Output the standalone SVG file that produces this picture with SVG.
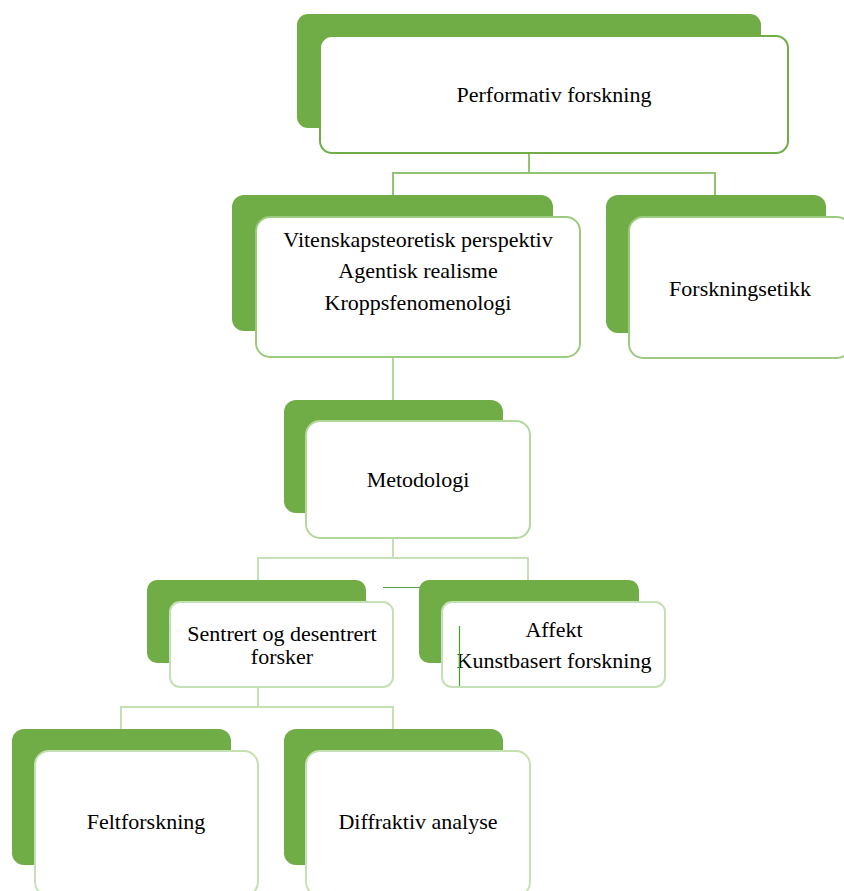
<svg xmlns="http://www.w3.org/2000/svg" width="844" height="891" viewBox="0 0 844 891">
  <style>
    .back { fill: #70ad47; }
    .front { fill: #ffffff; stroke-width: 2; }
    .l1 { stroke: #70ad47; }
    .l2 { stroke: #9ccb80; }
    .l3 { stroke: #b3d89c; }
    .l4 { stroke: #c5e0b4; }
    .label { font-family: "Liberation Serif", "Times New Roman", serif; font-size: 22px; fill: #000000; text-anchor: middle; }
    .conn { fill: none; stroke-width: 2; }
  </style>
  <rect width="844" height="891" fill="#ffffff"/>

  <!-- connectors -->
  <g id="connectors">
    <path class="conn" stroke="#92c474" d="M529,153 V173 M393,195 V173 H715 V195"/>
    <path class="conn" stroke="#b3d89c" d="M393,357 V400"/>
    <path class="conn" stroke="#c5e0b4" d="M393,538 V558 M258,580 V558 H528 V580"/>
    <path class="conn" stroke="#c5e0b4" d="M258,687 V707 M121,729 V707 H393 V729"/>
  </g>

  <!-- top node -->
  <g id="performativ">
    <rect class="back" x="297" y="14" width="464" height="114" rx="11"/>
    <rect class="front l1" x="320" y="36" width="468" height="117" rx="12"/>
    <text class="label" x="554" y="102">Performativ forskning</text>
  </g>

  <g id="vitenskap">
    <rect class="back" x="232" y="195" width="321" height="136" rx="12"/>
    <rect class="front l2" x="256" y="217" width="324" height="140" rx="14"/>
    <text class="label" x="418" y="247">Vitenskapsteoretisk perspektiv</text>
    <text class="label" x="418" y="278">Agentisk realisme</text>
    <text class="label" x="418" y="310">Kroppsfenomenologi</text>
  </g>

  <g id="forskningsetikk">
    <rect class="back" x="606" y="195" width="220" height="138" rx="12"/>
    <rect class="front l2" x="629" y="217" width="222" height="141" rx="14"/>
    <text class="label" x="740" y="296">Forskningsetikk</text>
  </g>

  <g id="metodologi">
    <rect class="back" x="284" y="400" width="219" height="113" rx="12"/>
    <rect class="front l3" x="306" y="421" width="224" height="117" rx="14"/>
    <text class="label" x="418" y="487">Metodologi</text>
  </g>

  <g id="sentrert">
    <rect class="back" x="147" y="580" width="219" height="83" rx="10"/>
    <rect class="front l4" x="170" y="602" width="223" height="85" rx="10"/>
    <text class="label" x="282" y="641">Sentrert og desentrert</text>
    <text class="label" x="282" y="664">forsker</text>
  </g>

  <g id="affekt">
    <rect class="back" x="419" y="580" width="220" height="83" rx="10"/>
    <rect class="front l4" x="442" y="602" width="223" height="85" rx="10"/>
    <text class="label" x="554" y="637">Affekt</text>
    <text class="label" x="554" y="668">Kunstbasert forskning</text>
  </g>

  <g id="feltforskning">
    <rect class="back" x="12" y="729" width="219" height="136" rx="12"/>
    <rect class="front l4" x="35" y="751" width="223" height="145" rx="14"/>
    <text class="label" x="146" y="829">Feltforskning</text>
  </g>

  <g id="diffraktiv">
    <rect class="back" x="284" y="729" width="219" height="136" rx="12"/>
    <rect class="front l4" x="306" y="751" width="224" height="145" rx="14"/>
    <text class="label" x="418" y="829">Diffraktiv analyse</text>
  </g>

  <!-- loose line strokes lying over the lower row -->
  <g id="strokes">
    <path fill="none" stroke="#5e9a3c" stroke-width="1.2" d="M383,587.5 H420"/>
    <path fill="none" stroke="#3fa51e" stroke-width="1.2" d="M459.5,626 V686"/>
  </g>
</svg>
